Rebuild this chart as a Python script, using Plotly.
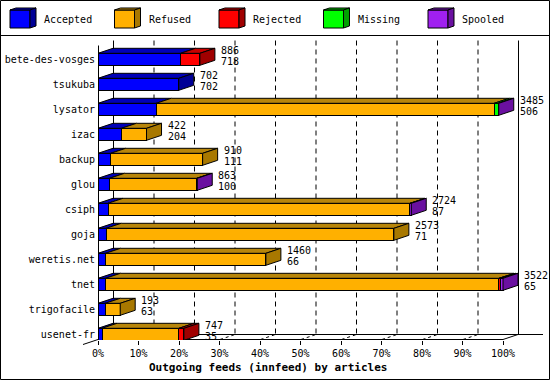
import plotly.graph_objects as go

# ---------------- data ----------------
hosts = ["bete-des-vosges", "tsukuba", "lysator", "izac", "backup", "glou",
         "csiph", "goja", "weretis.net", "tnet", "trigofacile", "usenet-fr"]
accepted = [718, 702, 506, 204, 111, 100, 87, 71, 66, 65, 63, 35]
refused = [0, 0, 2939, 218, 799, 758, 2625, 2502, 1394, 3422, 130, 669]
rejected = [168, 0, 0, 0, 0, 0, 0, 0, 0, 15, 0, 43]
missing = [0, 0, 35, 0, 0, 0, 0, 0, 0, 0, 0, 0]
spooled = [0, 0, 5, 0, 0, 5, 12, 0, 0, 20, 0, 0]

series_names = ["Accepted", "Refused", "Rejected", "Missing", "Spooled"]
series_values = [accepted, refused, rejected, missing, spooled]
x_ticks = [0, 10, 20, 30, 40, 50, 60, 70, 80, 90, 100]
x_tick_labels = [f"{v}%" for v in x_ticks]
x_title = "Outgoing feeds (innfeed) by articles"

# ---------------- style ----------------
front_colors = ["#0000FF", "#FFB000", "#FF0000", "#00FF00", "#A020F0"]
top_colors = ["#0000B8", "#B8860B", "#C80000", "#00B800", "#7A18B8"]
side_colors = ["#000096", "#A87800", "#A00000", "#00A000", "#6A10A0"]
FONT = "DejaVu Sans Mono"

W, H = 550, 380
ML, MR, MT, MB = 98, 5, 37, 40
PX_PER_PCT = 4.05
PX_PER_ROW = 25.0
ROW0 = 59.3
DEPTH_X, DEPTH_Y = 15, 5
BAR_W = 0.48

plot_w = W - ML - MR
plot_h = H - MT - MB
x_range = [0, plot_w / PX_PER_PCT]
y_range = [(H - MB - ROW0) / PX_PER_ROW, (MT - ROW0) / PX_PER_ROW]
dxp = DEPTH_X / PX_PER_PCT
dyi = DEPTH_Y / PX_PER_ROW

n = len(hosts)
totals = [sum(s[i] for s in series_values) for i in range(n)]
vmax = max(totals)
pct = [[v / vmax * 100 for v in s] for s in series_values]


def pp(px, py):
    return (px - ML) / plot_w, (H - MB - py) / plot_h


def xf(p):  # pixel of a percentage on the front plane
    return ML + p * PX_PER_PCT


fig = go.Figure()

# front faces
for k, name in enumerate(series_names):
    fig.add_trace(go.Bar(
        orientation="h", y=list(range(n)),
        x=[v if v > 0 else None for v in pct[k]],
        width=BAR_W, name=name, marker_color=front_colors[k],
        marker_line_color="black", marker_line_width=1,
        showlegend=False, hoverinfo="skip"))

# top faces and side faces
tops = {k: ([], []) for k in range(5)}
sides = {k: ([], []) for k in range(5)}
for i in range(n):
    yt, yb = i - BAR_W / 2, i + BAR_W / 2
    x0 = 0.0
    last = None
    for k in range(5):
        v = pct[k][i]
        if v <= 0:
            continue
        x1 = x0 + v
        xs, ys = tops[k]
        xs += [x0, x0 + dxp, x1 + dxp, x1, x0, None]
        ys += [yt, yt - dyi, yt - dyi, yt, yt, None]
        x0 = x1
        last = k
    xs, ys = sides[last]
    xs += [x0, x0 + dxp, x0 + dxp, x0, x0, None]
    ys += [yt, yt - dyi, yb - dyi, yb, yt, None]

for k in range(5):
    for d, col in ((tops, top_colors[k]), (sides, side_colors[k])):
        xs, ys = d[k]
        if xs:
            fig.add_trace(go.Scatter(x=xs, y=ys, mode="lines", fill="toself",
                                     fillcolor=col, line=dict(color="black", width=1),
                                     showlegend=False, hoverinfo="skip"))

annotations = []
for i in range(n):
    xe = sum(pct[k][i] for k in range(5)) + dxp
    annotations.append(dict(x=xe, y=i - 0.37, text=str(totals[i]), xanchor="left",
                            xshift=4, showarrow=False, font=dict(family=FONT, size=10, color="black")))
    annotations.append(dict(x=xe, y=i + 0.07, text=str(accepted[i]), xanchor="left",
                            xshift=4, showarrow=False, font=dict(family=FONT, size=10, color="black")))

# axis title
tx, ty = pp(268, 367)
annotations.append(dict(xref="paper", yref="paper", x=tx, y=ty, text=f"<b>{x_title}</b>",
                        showarrow=False, xanchor="center", yanchor="middle",
                        font=dict(family=FONT, size=11, color="black")))

shapes = []


def line(x0, y0, x1, y1, dash="solid"):
    a, b = pp(x0, y0)
    c, d = pp(x1, y1)
    shapes.append(dict(type="line", xref="paper", yref="paper", x0=a, y0=b, x1=c, y1=d,
                       line=dict(color="black", width=1, dash=dash), layer="below"))


# outer frame and legend separator
a, b = pp(0.5, 0.5)
c, d = pp(549.5, 379.5)
shapes.append(dict(type="rect", xref="paper", yref="paper", x0=a, y0=b, x1=c, y1=d,
                   line=dict(color="black", width=1), layer="below"))
line(0, 35.5, 550, 35.5)

# 3D box
front_top, back_top = 45.5, 40.5
front_bot, back_bot = 339.5, 334.5
line(xf(0) + 0.5, front_top, xf(0) + 0.5, front_bot)
line(xf(0) + DEPTH_X + 0.5, back_top, xf(0) + DEPTH_X + 0.5, back_bot)
line(xf(100) + DEPTH_X + 0.5, back_top, xf(100) + DEPTH_X + 0.5, back_bot)
line(xf(0), front_bot, xf(100), front_bot)
line(xf(100), front_bot, xf(100) + DEPTH_X, back_bot)
line(xf(0) + DEPTH_X, back_bot, 543, back_bot)
line(xf(0), front_bot, xf(0) - DEPTH_X, front_bot + DEPTH_Y)
for t in x_ticks[1:-1]:
    gx = xf(t) + DEPTH_X + 0.5
    line(gx, back_top, gx, back_bot, dash="5px,4px")
    line(xf(t) + 0.5, front_bot, gx, back_bot, dash="3px,3px")

# legend (3D cubes)
for k, name in enumerate(series_names):
    bx = 10 + 104.5 * k
    x0, y0 = pp(bx, 10)
    x1, y1 = pp(bx + 20, 28)
    shapes.append(dict(type="rect", xref="paper", yref="paper", x0=x0, y0=y0, x1=x1, y1=y1,
                       fillcolor=front_colors[k], line=dict(color="black", width=1)))

    def path(pts):
        s = ""
        for j, (px, py) in enumerate(pts):
            u, v = pp(px, py)
            s += ("M" if j == 0 else "L") + f"{u:.5f},{v:.5f} "
        return s + "Z"

    shapes.append(dict(type="path", xref="paper", yref="paper",
                       path=path([(bx, 10), (bx + 6, 8), (bx + 26, 8), (bx + 20, 10)]),
                       fillcolor=top_colors[k], line=dict(color="black", width=1)))
    shapes.append(dict(type="path", xref="paper", yref="paper",
                       path=path([(bx + 20, 10), (bx + 26, 8), (bx + 26, 26), (bx + 20, 28)]),
                       fillcolor=side_colors[k], line=dict(color="black", width=1)))
    lx, ly = pp(bx + 32, 19.5)
    annotations.append(dict(xref="paper", yref="paper", x=lx, y=ly, text=name, xanchor="left",
                            yanchor="middle", showarrow=False,
                            font=dict(family=FONT, size=10, color="black")))

fig.update_layout(
    width=W, height=H, margin=dict(l=ML, r=MR, t=MT, b=MB, pad=0),
    barmode="stack", bargap=0,
    paper_bgcolor="white", plot_bgcolor="white",
    font=dict(family=FONT, size=10, color="black"),
    xaxis=dict(range=x_range, tickvals=x_ticks, ticktext=x_tick_labels, ticks="outside",
               ticklen=4, tickcolor="black", tickwidth=1, showgrid=False, zeroline=False,
               showline=False, fixedrange=True, tickfont=dict(family=FONT, size=10, color="black")),
    yaxis=dict(range=y_range, tickvals=list(range(n)), ticktext=hosts, ticks="",
               ticklabelstandoff=2,
               showgrid=False, zeroline=False, showline=False, fixedrange=True,
               tickfont=dict(family=FONT, size=10, color="black")),
    shapes=shapes, annotations=annotations, showlegend=False,
)

fig.write_html("out.html", config={"displayModeBar": False, "staticPlot": True},
               post_script="document.body.style.margin='0';")
